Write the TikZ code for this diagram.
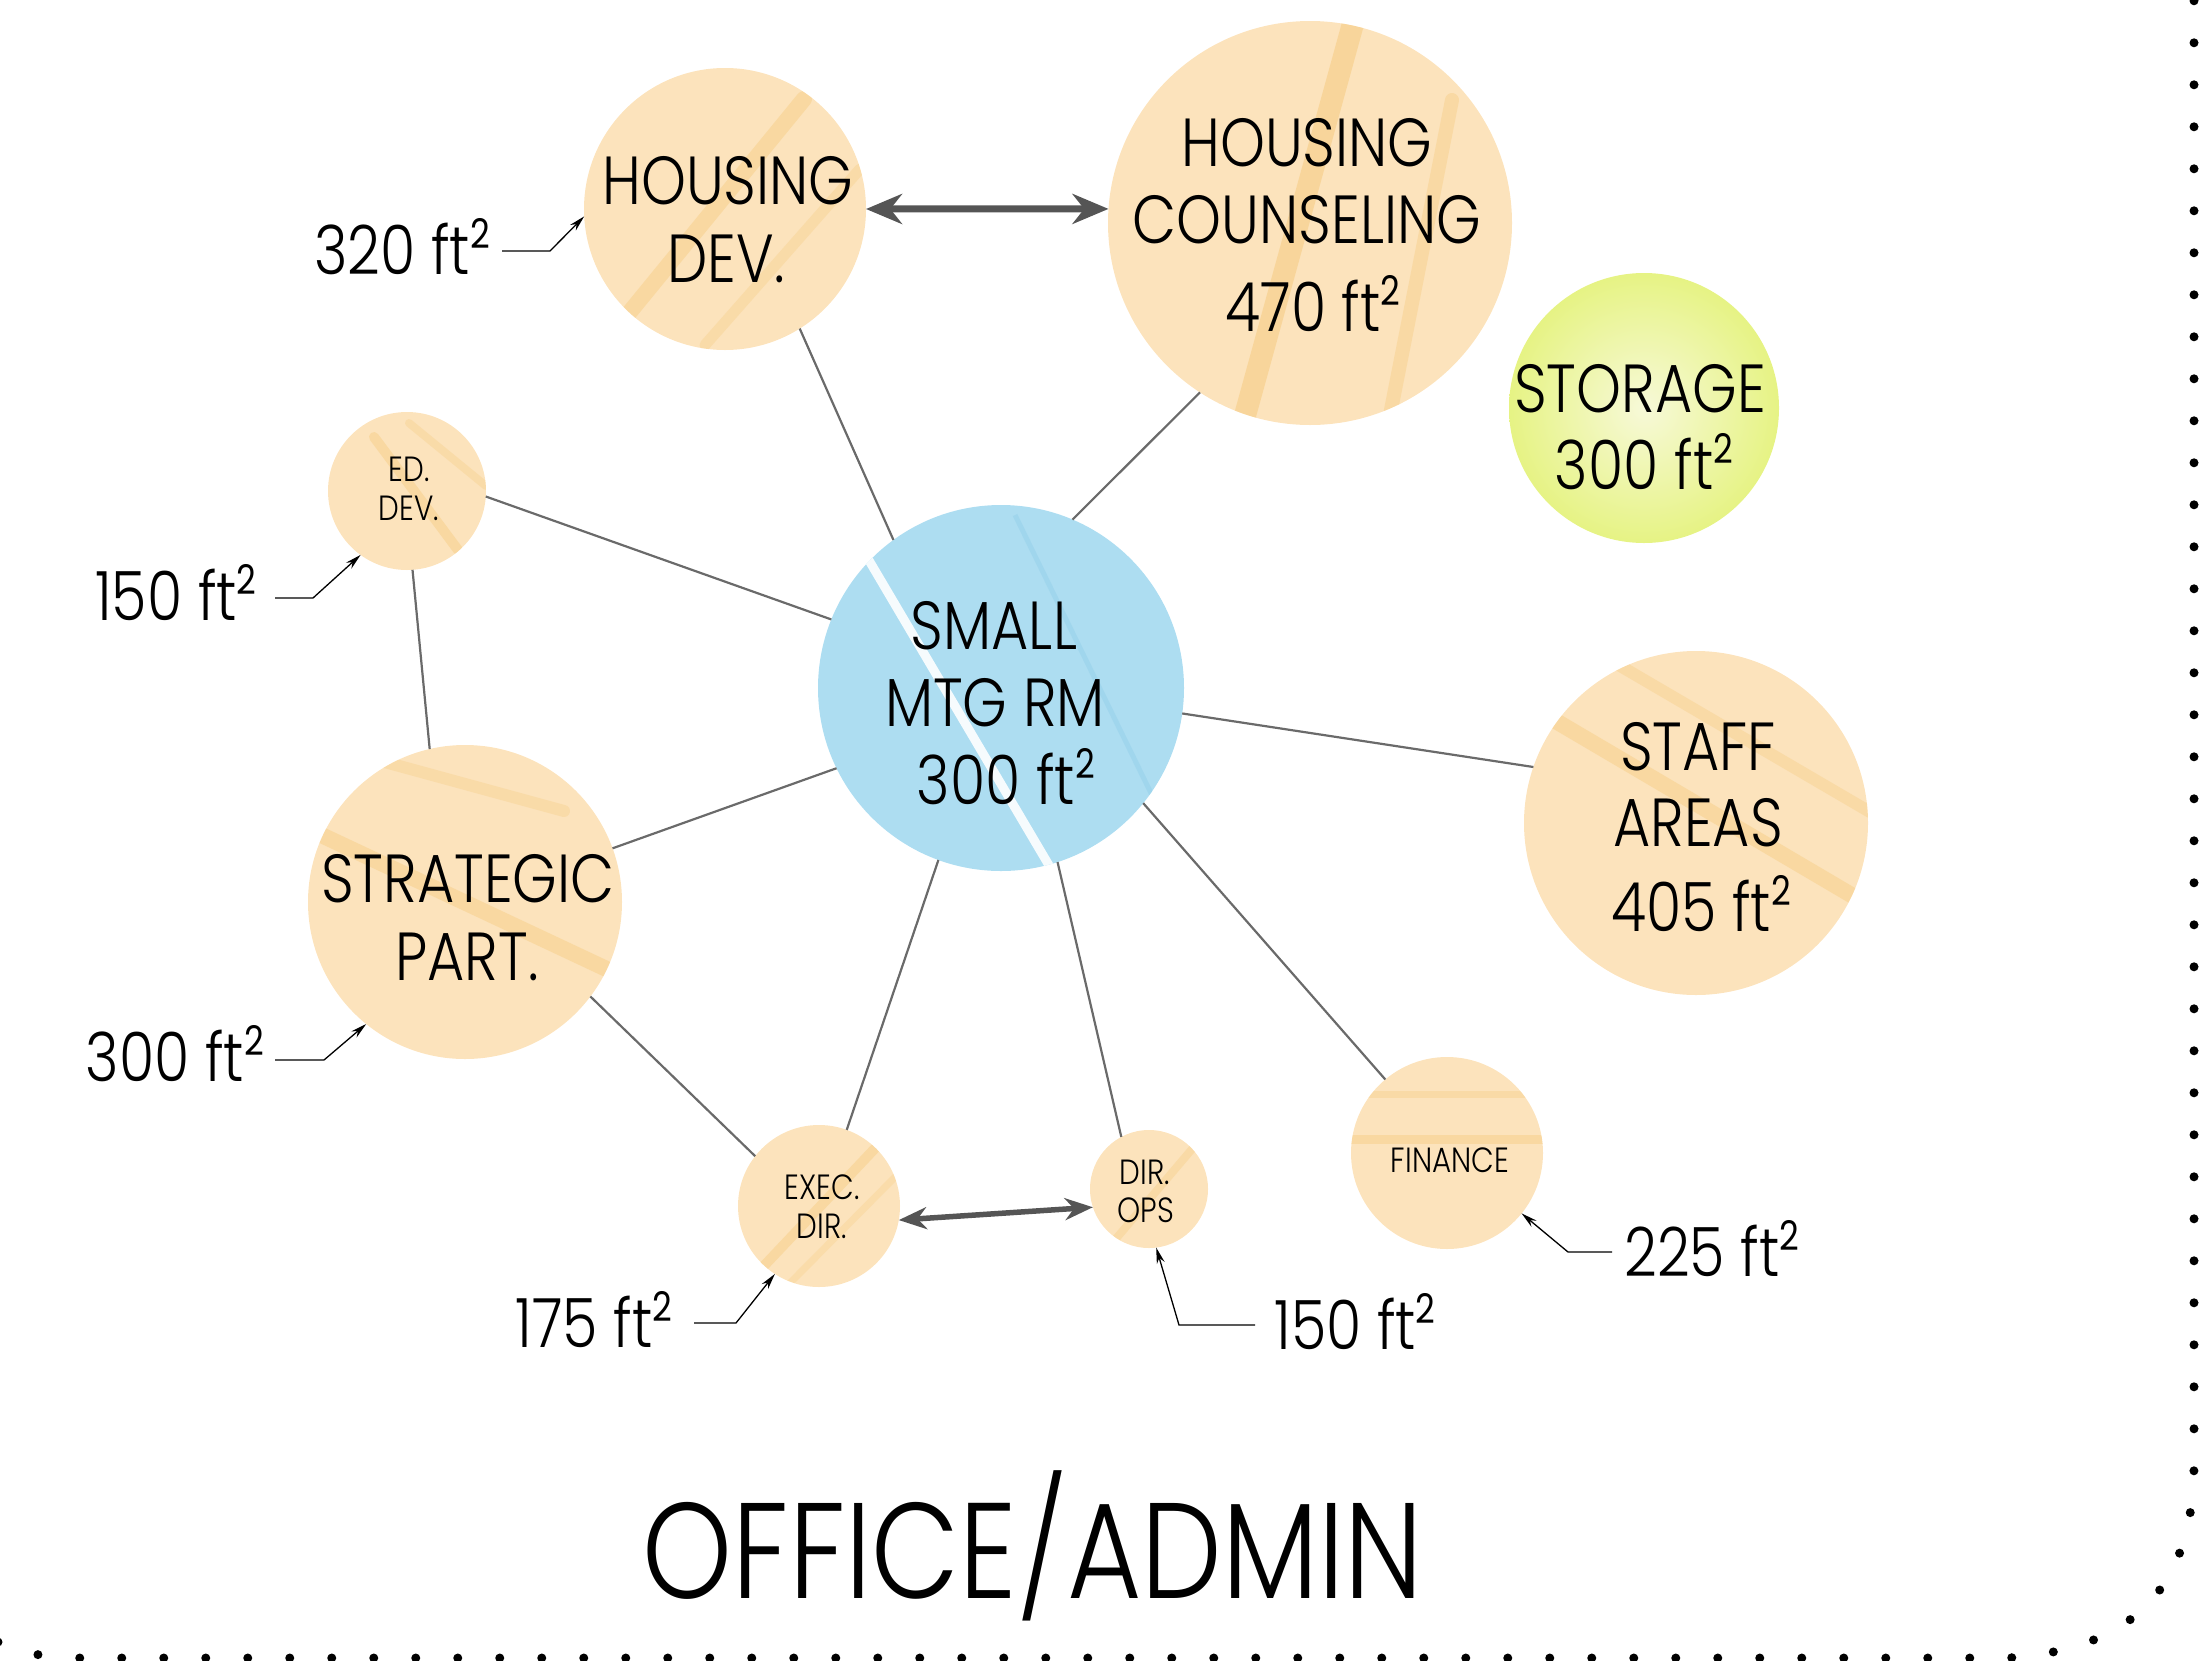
\documentclass[tikz,border=0pt]{standalone}
\usepackage{fontspec}
\setmainfont{Poppins}[UprightFont={* Light}, FakeStretch=0.84]
\newfontfamily\supfont{Poppins}[FakeStretch=0.84]
\usetikzlibrary{arrows.meta}

\definecolor{peach}{HTML}{FCE3BC}
\definecolor{streak}{HTML}{F4C46E}
\definecolor{skyblue}{HTML}{ADDDF1}
\definecolor{skydeep}{HTML}{92CFE9}
\definecolor{limepale}{HTML}{F7F9D8}
\definecolor{limedeep}{HTML}{E6F384}
\definecolor{edgegray}{HTML}{6A6A6A}
\definecolor{arrowgray}{HTML}{555555}

% area unit with a raised, reduced 2
\newcommand\ftsq{ft\raisebox{0.37em}{\scalebox{0.6}{\supfont 2}}}

\begin{document}
\begin{tikzpicture}[x=1pt, y=-1pt,
  room/.style={circle, inner sep=0pt, outer sep=0pt, minimum size=#1, fill=peach},
  meeting/.style={circle, inner sep=0pt, outer sep=0pt, minimum size=#1, fill=skyblue},
  store/.style={circle, inner sep=0pt, outer sep=0pt, minimum size=#1,
                inner color=limepale, outer color=limedeep},
  wash/.style={draw=streak, draw opacity=0.34, line cap=round},
  link/.style={draw=edgegray, line width=2.2pt},
  pair/.style={draw=arrowgray, line width=7pt, {Stealth[length=36pt,width=30pt]}-{Stealth[length=36pt,width=30pt]}},
  pairsmall/.style={draw=arrowgray, line width=5.5pt, {Stealth[length=28pt,width=22pt]}-{Stealth[length=28pt,width=22pt]}},
  leader/.style={draw=black, line width=1.3pt, -{Stealth[length=16pt,width=8pt]}},
  big/.style={anchor=base, inner sep=0pt, font=\fontsize{68}{68}\selectfont},
  small/.style={anchor=base, inner sep=0pt, font=\fontsize{35}{35}\selectfont},
  heading/.style={anchor=base, inner sep=0pt, font=\fontsize{136}{136}\selectfont}
]
\useasboundingbox (0,0) rectangle (2211,1660);

% dotted frame along the right and bottom
\draw[line width=9pt, line cap=round, dash pattern=on 0pt off 42pt]
  (-2,1642) .. controls (20,1652) and (45,1658) .. (76,1658)
  -- (2008,1658) .. controls (2120,1650) and (2195,1600) .. (2194,1460)
  -- (2194,-20);

% rooms
\node[room=282pt]    (hd)  at (725,209)   {};
\node[room=404pt]    (hc)  at (1310,223)  {};
\node[store=270pt]   (st)  at (1644,408)  {};
\node[room=158pt]    (ed)  at (407,491)   {};
\node[meeting=366pt] (mtg) at (1001,688)  {};
\node[room=344pt]    (sa)  at (1696,823)  {};
\node[room=314pt]    (sp)  at (465,902)   {};
\node[room=162pt]    (ex)  at (819,1206)  {};
\node[room=118pt]    (op)  at (1149,1189) {};
\node[room=192pt]    (fi)  at (1447,1153) {};

% watercolour streaks
\begin{scope}
  \clip (hd.center) circle[radius=141pt];
  \draw[wash, line width=16pt] (620,324) -- (804,99);
  \draw[wash, line width=11pt, draw opacity=0.25] (705,345) -- (860,169);
\end{scope}
\begin{scope}
  \clip (hc.center) circle[radius=202pt];
  \draw[wash, line width=22pt, draw opacity=0.42] (1354,20) -- (1241,430);
  \draw[wash, line width=14pt, draw opacity=0.3] (1452,100) -- (1389,420);
\end{scope}
\begin{scope}
  \clip (ed.center) circle[radius=79pt];
  \draw[wash, line width=10pt] (374,437) -- (458,550);
  \draw[wash, line width=8pt, draw opacity=0.25] (409,423) -- (486,486);
\end{scope}
\begin{scope}
  \clip (sp.center) circle[radius=157pt];
  \draw[wash, line width=16pt] (300,825) -- (630,980);
  \draw[wash, line width=12pt, draw opacity=0.25] (381,761) -- (564,811);
\end{scope}
\begin{scope}
  \clip (sa.center) circle[radius=172pt];
  \draw[wash, line width=16pt] (1520,700) -- (1870,906);
  \draw[wash, line width=12pt, draw opacity=0.28] (1610,660) -- (1870,812);
\end{scope}
\begin{scope}
  \clip (ex.center) circle[radius=81pt];
  \draw[wash, line width=10pt] (761,1269) -- (881,1142);
  \draw[wash, line width=7pt, draw opacity=0.22] (790,1283) -- (902,1170);
\end{scope}
\begin{scope}
  \clip (op.center) circle[radius=59pt];
  \draw[wash, line width=8pt, draw opacity=0.28] (1114,1241) -- (1198,1142);
\end{scope}
\begin{scope}
  \clip (fi.center) circle[radius=96pt];
  \draw[wash, line width=7pt, draw opacity=0.28] (1340,1094) -- (1560,1094);
  \draw[wash, line width=9pt] (1340,1139) -- (1560,1139);
\end{scope}
\begin{scope}
  \clip (mtg.center) circle[radius=183pt];
  \draw[draw=white, line width=9pt, draw opacity=0.9] (867,557) -- (1050,867);
  \draw[draw=skydeep, line width=5pt, draw opacity=0.45] (1015,515) -- (1170,832);
\end{scope}

% adjacencies
\draw[link] (hd.-58)  -- (mtg.126);
\draw[link] (hc.237)  -- (mtg.67);
\draw[link] (ed.-4)   -- (mtg.158);
\draw[link] (ed.-86)  -- (sp.103);
\draw[link] (sp.20)   -- (mtg.206);
\draw[link] (mtg.-8)  -- (sa.161);
\draw[link] (mtg.250) -- (ex.70);
\draw[link] (mtg.-72) -- (op.118);
\draw[link] (mtg.-39) -- (fi.130);
\draw[link] (sp.-37)  -- (ex.142);

% close relationships
\draw[pair] (hd.east) -- (hc.176);
\draw[pairsmall] (ex.-10) -- (op.198);

% room names
\node[big] (hd1) at (728,204) {HOUSING};
\node[big] (hd2) at (726,282) {DEV.};
\node[big] (hc1) at (1307,166) {HOUSING};
\node[big] (hc2) at (1307,243) {COUNSELING};
\node[big] (hc3) at (1313,331) {470 \ftsq};
\node[big] (st1) at (1640,412) {STORAGE};
\node[big] (st2) at (1644,489) {300 \ftsq};
\node[small] (ed1) at (409,481) {ED.};
\node[small] (ed2) at (409,520) {DEV.};
\node[big] (mt1) at (994,649) {SMALL};
\node[big] (mt2) at (995,726) {MTG RM};
\node[big] (mt3) at (1006,804) {300 \ftsq};
\node[big] (sa1) at (1698,770) {STAFF};
\node[big] (sa2) at (1698,846) {AREAS};
\node[big] (sa3) at (1701,931) {405 \ftsq};
\node[big] (sp1) at (468,902) {STRATEGIC};
\node[big] (sp2) at (467,980) {PART.};
\node[small] (ex1) at (822,1199) {EXEC.};
\node[small] (ex2) at (822,1238) {DIR.};
\node[small] (op1) at (1145,1184) {DIR.};
\node[small] (op2) at (1146,1222) {OPS};
\node[small] (fi1) at (1450,1172) {FINANCE};

% areas with leaders
\node[big] (a320)  at (402,274)   {320 \ftsq};
\node[big] (a150a) at (176,620)   {150 \ftsq};
\node[big] (a300)  at (175,1081)  {300 \ftsq};
\node[big] (a175)  at (594,1347)  {175 \ftsq};
\node[big] (a150b) at (1355,1349) {150 \ftsq};
\node[big] (a225)  at (1712,1276) {225 \ftsq};

\coordinate (s320) at (502,251);   \coordinate (k320) at (550,251);
\coordinate (s150a) at (275,598);  \coordinate (k150a) at (313,598);
\coordinate (s300) at (275,1060);  \coordinate (k300) at (324,1060);
\coordinate (s175) at (694,1323);  \coordinate (k175) at (736,1323);
\coordinate (s150b) at (1255,1325); \coordinate (k150b) at (1179,1325);
\coordinate (s225) at (1612,1252); \coordinate (k225) at (1568,1252);

\draw[leader] (s320)  -- (k320)  -- (hd.183);
\draw[leader] (s150a) -- (k150a) -- (ed.234);
\draw[leader] (s300)  -- (k300)  -- (sp.231);
\draw[leader] (s175)  -- (k175)  -- (ex.237);
\draw[leader] (s150b) -- (k150b) -- (op.-83);
\draw[leader] (s225)  -- (k225)  -- (fi.-39);

% title
\node[heading] (title) at (1033,1598) {OFFICE/ADMIN};
\end{tikzpicture}
\end{document}
